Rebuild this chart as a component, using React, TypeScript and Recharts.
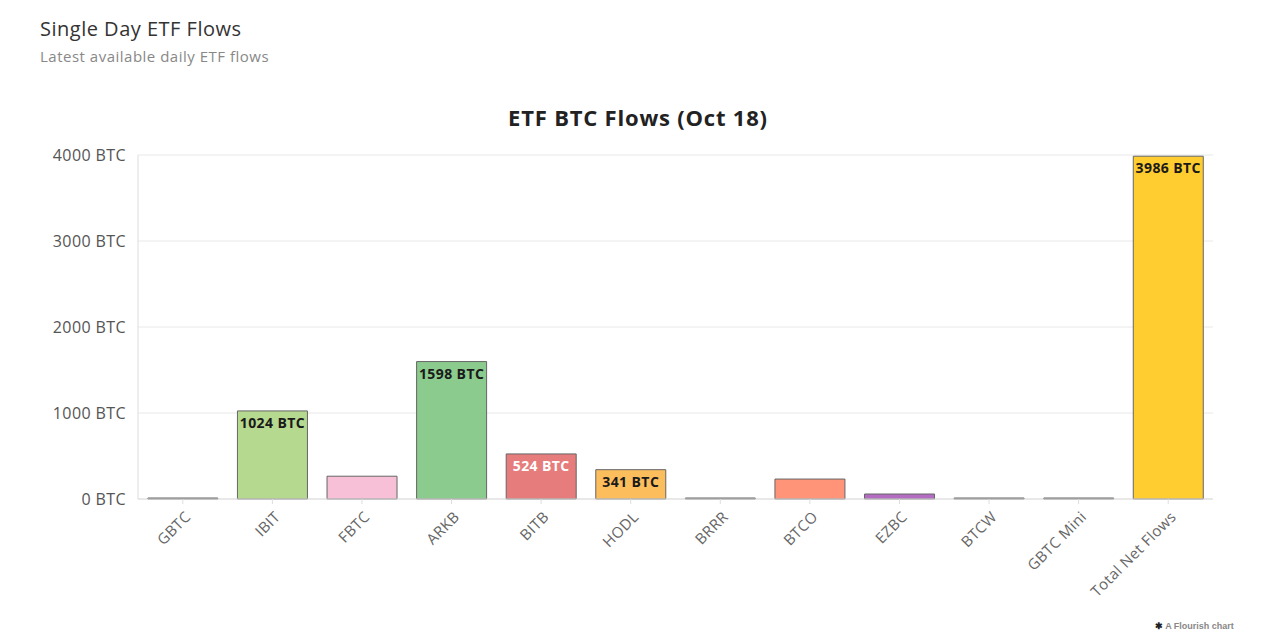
import { BarChart, Bar, XAxis, YAxis, CartesianGrid, LabelList, Cell } from 'recharts';

const tickers = ['GBTC', 'IBIT', 'FBTC', 'ARKB', 'BITB', 'HODL', 'BRRR', 'BTCO', 'EZBC', 'BTCW', 'GBTC Mini', 'Total Net Flows'];
const flows = [0, 1024, 265, 1598, 524, 341, 0, 232, 58, 0, 0, 3986];
const barColors = ['#555555', '#b5d98e', '#f8c0d6', '#8bcb8e', '#e67c7c', '#fcbd5d', '#555555', '#ff9478', '#b36cc2', '#555555', '#555555', '#ffcd2f'];
const labelled = ['IBIT', 'ARKB', 'BITB', 'HODL', 'Total Net Flows'];
const whiteLabels = ['BITB'];
const yTicks = [0, 1000, 2000, 3000, 4000];

const chartData = tickers.map((t, i) => ({ ticker: t, flow: flows[i] }));

const FONT = '"Open Sans", "DejaVu Sans", sans-serif';

function RotatedTick(props: any) {
  const { x, y, payload } = props;
  return (
    <g transform={`translate(${x + 6},${y + 9})`}>
      <text
        textAnchor="end"
        transform="rotate(-45)"
        fontSize={15}
        letterSpacing={0.4}
        fill="#666"
        fontFamily={FONT}
        dy={4}
      >
        {payload.value}
      </text>
    </g>
  );
}

function BarLabel(props: any) {
  const { x, y, width, index } = props;
  const name = tickers[index];
  if (!labelled.includes(name)) return null;
  const isWhite = whiteLabels.includes(name);
  const isTotal = name === 'Total Net Flows';
  return (
    <text
      x={x + width / 2}
      y={y + 17}
      textAnchor="middle"
      fontSize={14}
      fontWeight={700}
      letterSpacing={0.4}
      fontFamily={FONT}
      fill={isWhite ? '#ffffff' : '#1a1a1a'}
      stroke={isTotal ? '#ffcd2f' : 'none'}
      strokeWidth={isTotal ? 3 : 0}
      paintOrder="stroke"
    >
      {`${flows[index]} BTC`}
    </text>
  );
}

export default function App() {
  return (
    <div style={{ position: 'absolute', left: 0, top: 0, width: 1280, height: 640, background: '#fff', fontFamily: FONT }}>
      <div style={{ position: 'absolute', left: 40, top: 15, fontSize: 20, letterSpacing: 0.5, color: '#333' }}>
        Single Day ETF Flows
      </div>
      <div style={{ position: 'absolute', left: 40, top: 46, fontSize: 15, letterSpacing: 0.5, color: '#888' }}>
        Latest available daily ETF flows
      </div>
      <div style={{ position: 'absolute', left: 0, top: 102, width: 1276, textAlign: 'center', fontSize: 22, letterSpacing: 0.8, fontWeight: 700, color: '#222' }}>
        ETF BTC Flows (Oct 18)
      </div>
      <div style={{ position: 'absolute', left: 0, top: 0 }}>
        <BarChart
          width={1280}
          height={640}
          data={chartData}
          margin={{ top: 155, right: 67, left: 38, bottom: 31 }}
          barCategoryGap="11%"
        >
          <CartesianGrid vertical={false} stroke="#e8e8e8" />
          <XAxis
            dataKey="ticker"
            interval={0}
            height={110}
            tick={<RotatedTick />}
            axisLine={{ stroke: '#ddd' }}
            tickLine={{ stroke: '#ddd' }}
            tickSize={5}
          />
          <YAxis
            width={100}
            domain={[0, 4000]}
            ticks={yTicks}
            tickFormatter={(v) => `${v} BTC`}
            tick={{ fontSize: 16, fill: '#555', fontFamily: FONT, letterSpacing: 0.4 }}
            axisLine={{ stroke: '#ddd' }}
            tickLine={false}
            tickMargin={6}
          />
          <Bar dataKey="flow" isAnimationActive={false} minPointSize={1} stroke="#666" strokeWidth={1}>
            {chartData.map((d, i) => (
              <Cell key={d.ticker} fill={barColors[i]} />
            ))}
            <LabelList dataKey="flow" content={<BarLabel />} />
          </Bar>
        </BarChart>
      </div>
      <div style={{ position: 'absolute', left: 1155, top: 621, fontSize: 9, fontWeight: 700, color: '#888', fontFamily: '"Liberation Sans", sans-serif' }}>
        <span style={{ color: '#222' }}>✱</span> A Flourish chart
      </div>
    </div>
  );
}
